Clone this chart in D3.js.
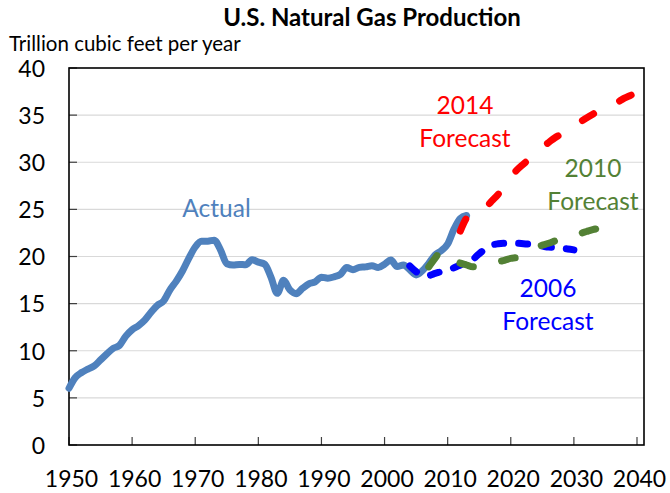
<!DOCTYPE html>
<html><head><meta charset="utf-8">
<script src="https://cdn.jsdelivr.net/npm/d3@7"></script>
<style>
html,body{margin:0;padding:0;background:#fff;}
svg{display:block;font-family:Lato, "Open Sans", sans-serif;}
</style></head>
<body>
<svg id="chart" width="670" height="493"></svg>
<script>
// ---- DATA ----
const title = "U.S. Natural Gas Production";
const yUnit = "Trillion cubic feet per year";
const xTicks = [1950,1960,1970,1980,1990,2000,2010,2020,2030,2040];
const yTicks = [0,5,10,15,20,25,30,35,40];

const actualStart = 1950;
const actualValues = [6.02,7.16,7.69,8.06,8.39,9.03,9.66,10.25,10.57,11.55,
  12.23,12.66,13.25,14.08,14.82,15.29,16.47,17.39,18.49,19.83,
  21.01,21.61,21.62,21.73,20.71,19.24,19.10,19.16,19.12,19.66,
  19.40,19.18,17.82,16.09,17.47,16.45,16.06,16.62,17.10,17.31,
  17.81,17.70,17.84,18.10,18.82,18.60,18.85,18.90,19.02,18.83,
  19.18,19.62,18.93,19.10,18.59,18.05,18.50,19.27,20.16,20.62,
  21.32,22.90,24.03,24.35];

const f2006Start = 2004;
const f2006Values = [19.0,18.4,18.0,18.0,18.2,18.4,18.6,18.8,19.1,19.4,
  19.7,20.3,20.8,21.2,21.35,21.4,21.4,21.4,21.35,21.3,
  21.2,21.1,21.0,20.95,20.85,20.8,20.7];

const f2010Start = 2007;
const f2010Values = [18.9,19.8,20.6,20.1,19.6,19.3,19.1,18.9,18.9,19.1,
  19.3,19.45,19.6,19.8,19.9,20.3,20.7,21.0,21.2,21.4,
  21.65,21.9,22.1,22.3,22.45,22.65,22.85,23.0,23.15];

const f2014Start = 2012;
const f2014Values = [22.7,24.1,24.6,24.9,25.2,25.9,26.6,27.6,28.5,29.2,
  29.8,30.4,31.0,31.6,32.1,32.6,33.0,33.5,34.0,34.3,
  34.7,35.1,35.5,35.8,36.1,36.4,36.8,37.1,37.4];

const labels = [
  {lines:["Actual"], color:"#4F81BD", x:216.5, y:217},
  {lines:["2014","Forecast"], color:"#FF0000", x:465, y:114},
  {lines:["2010","Forecast"], color:"#538135", x:593, y:177},
  {lines:["2006","Forecast"], color:"#0000FF", x:548, y:297}
];

// ---- LAYOUT ----
const svg = d3.select("#chart");
const L = 69, R = 644, T = 68, B = 445;
const x = d3.scaleLinear().domain([1950, 2040]).range([L, 637]);
const y = d3.scaleLinear().domain([0, 40]).range([B, T]);

const toPts = (start, vals) => vals.map((v,i)=>({yr:start+i, v}));

// gridlines
svg.append("g").selectAll("line").data(yTicks.filter(d=>d>0 && d<40)).join("line")
  .attr("x1", L).attr("x2", R).attr("y1", d=>y(d)).attr("y2", d=>y(d))
  .attr("stroke", "#D9D9D9").attr("stroke-width", 1.2);

// y axis ticks + labels
const yAxis = d3.axisLeft(y).tickValues(yTicks).tickSize(0).tickPadding(0);
const gy = svg.append("g").attr("transform", `translate(${L},0)`).call(yAxis);
gy.select(".domain").remove();
gy.selectAll("text").attr("x", -24).attr("dy", "0.36em")
  .attr("font-family", "Lato").attr("font-size", 23).attr("fill", "#000");
svg.append("g").selectAll("line").data(yTicks).join("line")
  .attr("x1", L).attr("x2", L+8).attr("y1", d=>y(d)).attr("y2", d=>y(d))
  .attr("stroke", "#404040").attr("stroke-width", 1.2);

// x axis
const xAxis = d3.axisBottom(x).tickValues(xTicks).tickFormat(d3.format("d")).tickSize(0);
const gx = svg.append("g").attr("transform", `translate(0,${B})`).call(xAxis);
gx.select(".domain").remove();
gx.selectAll("text").attr("y", 42).attr("dy", 0).attr("dx", 2)
  .attr("font-family", "Lato").attr("font-size", 23).attr("fill", "#000");
svg.append("g").selectAll("line").data(xTicks).join("line")
  .attr("x1", d=>x(d)).attr("x2", d=>x(d)).attr("y1", B).attr("y2", B-8)
  .attr("stroke", "#404040").attr("stroke-width", 1.2);

// frame
svg.append("rect").attr("x", L).attr("y", T).attr("width", R-L).attr("height", B-T)
  .attr("fill", "none").attr("stroke", "#000").attr("stroke-width", 1.6);

const line = d3.line().x(d=>x(d.yr)).y(d=>y(d.v)).curve(d3.curveMonotoneX);

function drawSeries(pts, color, dash){
  const p = svg.append("path").datum(pts).attr("d", line)
    .attr("fill", "none").attr("stroke", color).attr("stroke-width", 7)
    .attr("stroke-linecap", "round").attr("stroke-linejoin", "round");
  if (dash) p.attr("stroke-dasharray", dash);
}
drawSeries(toPts(actualStart, actualValues), "#4F81BD", null);
drawSeries(toPts(f2006Start, f2006Values), "#0000FF", "9 15");
drawSeries(toPts(f2010Start, f2010Values), "#538135", "14 29");
drawSeries(toPts(f2014Start, f2014Values), "#FF0000", "13 29");

// annotations
labels.forEach(lb=>{
  lb.lines.forEach((t,i)=>{
    svg.append("text").attr("x", lb.x).attr("y", lb.y + i*32.5)
      .attr("text-anchor", "middle").attr("font-family", "Lato")
      .attr("font-size", 24.5).attr("fill", lb.color).text(t);
  });
});

// title and unit
svg.append("text").attr("x", 372).attr("y", 26).attr("text-anchor", "middle")
  .attr("font-family", "Lato").attr("font-weight", "bold").attr("font-size", 24)
  .attr("fill", "#000").text(title);
svg.append("text").attr("x", 9).attr("y", 51)
  .attr("font-family", "Lato").attr("font-size", 20.5)
  .attr("fill", "#000").text(yUnit);
</script>
</body></html>
